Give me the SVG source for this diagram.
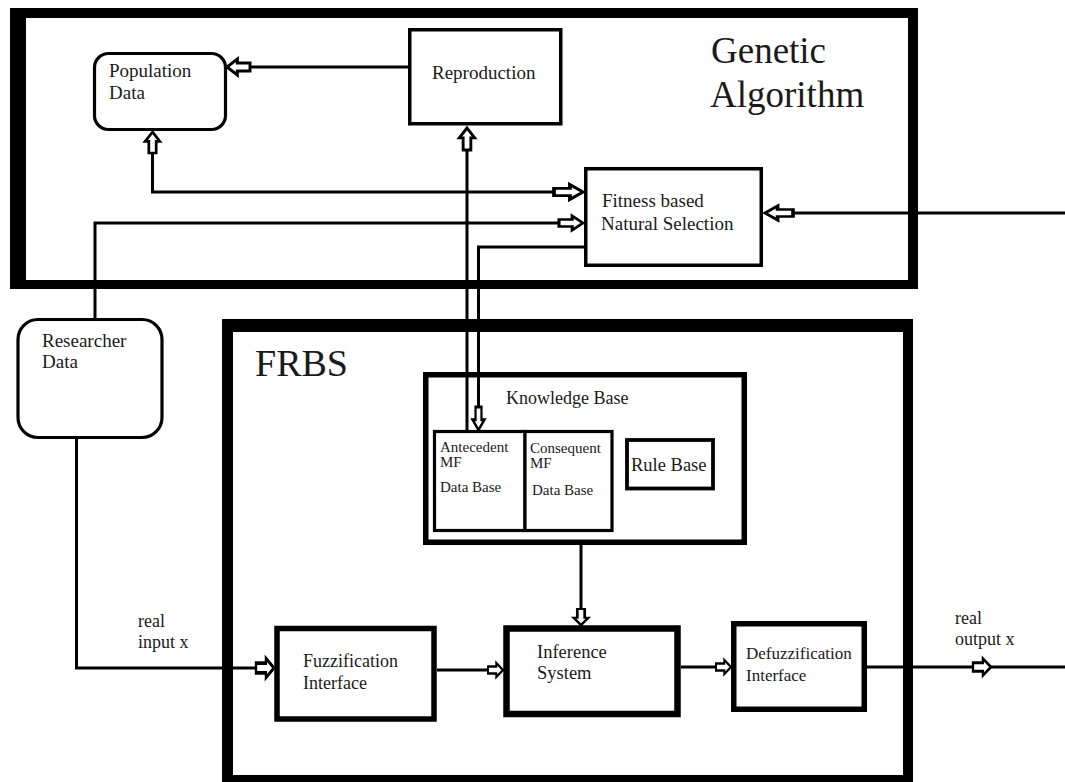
<svg xmlns="http://www.w3.org/2000/svg" xmlns:xlink="http://www.w3.org/1999/xlink" width="1065" height="782" viewBox="0 0 1065 782">
<style>
  text { font-family: "Liberation Serif", "Times New Roman", Times, "DejaVu Serif", "Noto Serif", serif; fill: #1a1a1a; }
  .n { font-size: 19px; }
  .s { font-size: 15px; }
  .big { font-size: 37px; }
  .box { fill: #fff; stroke: #000; }
  .ln { fill: none; stroke: #000; stroke-width: 3; }
</style>
<defs>
  <path id="arr" d="M0,0 L-9,-7 L-9,-3.5 L-20,-3.5 L-20,3.5 L-9,3.5 L-9,7 Z" fill="#fff" stroke="#000" stroke-width="2.6" stroke-linejoin="miter"/>
</defs>
<rect width="1065" height="782" fill="#fff"/>

<g id="genetic-algorithm">
  <path d="M10,8 H918 V289 H10 Z M26,18 V280 H908 V18 Z" fill="#000" fill-rule="evenodd"/>
  <text class="big" x="711" y="63">Genetic</text>
  <text class="big" x="710" y="107">Algorithm</text>
</g>

<g id="frbs">
  <path d="M222,319 H913 V795 H222 Z M233,332 V775 H903 V332 Z" fill="#000" fill-rule="evenodd"/>
  <text x="255" y="376" font-size="38">FRBS</text>
</g>

<g id="population-data">
  <rect class="box" x="94.5" y="53.5" width="131" height="76" rx="14" stroke-width="3.2"/>
  <text class="n" x="109" y="77">Population</text>
  <text class="n" x="109" y="99">Data</text>
</g>

<g id="reproduction">
  <rect class="box" x="409.75" y="29.75" width="151" height="94" stroke-width="3.5"/>
  <text class="n" x="432" y="79">Reproduction</text>
</g>

<g id="fitness-selection">
  <rect class="box" x="585.75" y="168.75" width="175.5" height="96.5" stroke-width="3.5"/>
  <text class="n" x="602" y="207">Fitness based</text>
  <text class="n" x="601" y="230">Natural Selection</text>
</g>

<g id="researcher-data">
  <rect class="box" x="18" y="319.5" width="144" height="118" rx="20" stroke-width="3.2"/>
  <text class="n" x="42" y="347">Researcher</text>
  <text class="n" x="42" y="368">Data</text>
</g>

<g id="knowledge-base">
  <rect class="box" x="425.75" y="374.75" width="318.5" height="167.5" stroke-width="5.5"/>
  <text x="506" y="404" font-size="18">Knowledge Base</text>
</g>

<g id="antecedent-mf">
  <rect class="box" x="434.5" y="431.5" width="90.5" height="99" stroke-width="3.2"/>
  <text class="s" x="440" y="452">Antecedent</text>
  <text class="s" x="440" y="467">MF</text>
  <text class="s" x="440" y="492">Data Base</text>
</g>

<g id="consequent-mf">
  <rect class="box" x="525" y="431.5" width="87" height="99" stroke-width="3.2"/>
  <text class="s" x="530" y="453">Consequent</text>
  <text class="s" x="530" y="468">MF</text>
  <text class="s" x="532" y="495">Data Base</text>
</g>

<g id="rule-base">
  <rect class="box" x="627" y="440" width="86" height="48.5" stroke-width="3.8"/>
  <text x="631" y="471" font-size="18.5">Rule Base</text>
</g>

<g id="fuzzification">
  <rect class="box" x="277" y="628.5" width="157" height="90.5" stroke-width="5.5"/>
  <text x="303" y="667" font-size="18">Fuzzification</text>
  <text x="303" y="689" font-size="18">Interface</text>
</g>

<g id="inference-system">
  <rect class="box" x="506.5" y="628.5" width="171" height="85.5" stroke-width="6.5"/>
  <text x="537" y="658" font-size="18.5">Inference</text>
  <text x="537" y="679" font-size="18.5">System</text>
</g>

<g id="defuzzification">
  <rect class="box" x="733.75" y="623.75" width="130.5" height="85.5" stroke-width="5.5"/>
  <text x="746" y="659" font-size="17">Defuzzification</text>
  <text x="746" y="681" font-size="17">Interface</text>
</g>

<g id="io-labels">
  <text x="138" y="627" font-size="18">real</text>
  <text x="138" y="648" font-size="18">input x</text>
  <text x="955" y="624" font-size="18">real</text>
  <text x="955" y="645" font-size="18">output x</text>
</g>

<g id="connectors">
  <polyline class="ln" points="408,67 240,67"/>
  <polyline class="ln" points="553,192 152.5,192 152.5,145"/>
  <polyline class="ln" points="95,318 95,223 560,223"/>
  <polyline class="ln" points="584,247 478.5,247 478.5,415"/>
  <polyline class="ln" points="467,430 467,140"/>
  <polyline class="ln" points="1065,213 780,213"/>
  <polyline class="ln" points="76.5,439 76.5,668 260,668"/>
  <polyline class="ln" points="437,670 490,670"/>
  <polyline class="ln" points="581,545 581,612"/>
  <polyline class="ln" points="681,667 719,667"/>
  <polyline class="ln" points="867,667 1065,667"/>
</g>

<g id="arrowheads">
  <use xlink:href="#arr" transform="translate(227,67) rotate(180) scale(1.15)"/>
  <use xlink:href="#arr" transform="translate(152.5,132) rotate(-90) scale(1.05)"/>
  <use xlink:href="#arr" transform="translate(467,128) rotate(-90) scale(1.1)"/>
  <use xlink:href="#arr" transform="translate(583,192) scale(1.45,1.05)"/>
  <use xlink:href="#arr" transform="translate(583,223) scale(1.2,1.0)"/>
  <use xlink:href="#arr" transform="translate(765,213) rotate(180) scale(1.4,1.0)"/>
  <use xlink:href="#arr" transform="translate(478.5,430) rotate(90) scale(1.15,0.85)"/>
  <use xlink:href="#arr" transform="translate(581,625) rotate(90) scale(0.8,1.05)"/>
  <use xlink:href="#arr" transform="translate(274,668) scale(0.9,1.4)"/>
  <use xlink:href="#arr" transform="translate(503,670) scale(0.75,1.0)"/>
  <use xlink:href="#arr" transform="translate(731,667) scale(0.75,1.0)"/>
  <use xlink:href="#arr" transform="translate(991,667) scale(0.9,1.2)"/>
</g>
</svg>
